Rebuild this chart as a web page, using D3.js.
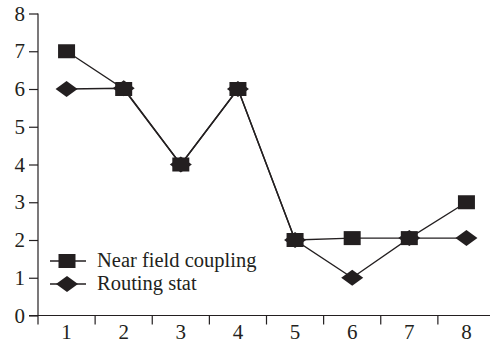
<!DOCTYPE html>
<html><head><meta charset="utf-8">
<script src="https://cdn.jsdelivr.net/npm/d3@7"></script>
<style>body{margin:0;background:#fff}svg{display:block}</style>
</head><body>
<script>
const categories = [1,2,3,4,5,6,7,8];
const nearField = [7,6,4,6,2,2.05,2.05,3];
const routing = [6,6.02,4,6,2,1,2.05,2.05];
const yTicks = [0,1,2,3,4,5,6,7,8];
const seriesNames = ["Near field coupling","Routing stat"];

const W=490,H=355, ink="#231f20";
const svg=d3.select("body").append("svg").attr("width",W).attr("height",H);
const x=d3.scaleBand().domain(categories).range([38,495]);
const y=d3.scaleLinear().domain([0,8]).range([315.5,13.5]);
const font="'Liberation Serif','Times New Roman',serif";

// axes
const yAxis=svg.append("g").attr("transform","translate(38,0)")
  .call(d3.axisLeft(y).tickValues(yTicks).tickSize(9).tickPadding(4).tickFormat(d3.format("d")));
const xAxis=svg.append("g").attr("transform","translate(0,315.5)")
  .call(d3.axisBottom(x).tickSize(0).tickPadding(9));
[yAxis,xAxis].forEach(g=>{
  g.selectAll("path,line").attr("stroke",ink).attr("stroke-width",1.2);
  g.selectAll("text").attr("fill",ink).style("font-family",font).style("font-size","21px");
});
yAxis.select(".domain").attr("d","M0,"+y(8)+"V"+(y(0)+9));
xAxis.select(".domain").attr("d","M29,0H490");
// x ticks at band boundaries
svg.append("g").selectAll("line").data(categories.slice(1)).join("line")
  .attr("x1",d=>x(d)).attr("x2",d=>x(d)).attr("y1",315.5).attr("y2",324.5)
  .attr("stroke",ink).attr("stroke-width",1.2);

const cx=d=>x(d)+x.bandwidth()/2;
const line=d3.line().x((d,i)=>cx(categories[i])).y(d=>y(d));
svg.append("path").datum(routing).attr("d",line).attr("fill","none").attr("stroke",ink).attr("stroke-width",1.4);
svg.append("path").datum(nearField).attr("d",line).attr("fill","none").attr("stroke",ink).attr("stroke-width",1.4);

function diamond(g,px,py){g.append("path").attr("d",`M${px-11},${py}L${px},${py-8}L${px+11},${py}L${px},${py+8}Z`).attr("fill",ink);}
function square(g,px,py){g.append("rect").attr("x",px-8.5).attr("y",py-7).attr("width",17).attr("height",14).attr("fill",ink);}
const mk=svg.append("g");
routing.forEach((v,i)=>diamond(mk,cx(categories[i]),y(v)));
nearField.forEach((v,i)=>square(mk,cx(categories[i]),y(v)));

// legend
const lg=svg.append("g");
const rows=[261,284];
rows.forEach((ry,i)=>{
  lg.append("line").attr("x1",50).attr("x2",86).attr("y1",ry).attr("y2",ry).attr("stroke",ink).attr("stroke-width",1.4);
  if(i===0) square(lg,67,ry); else diamond(lg,67,ry);
  lg.append("text").attr("x",97).attr("y",ry).attr("dy","0.3em").text(seriesNames[i])
    .attr("fill",ink).style("font-family",font).style("font-size","20.5px");
});
</script>
</body></html>
